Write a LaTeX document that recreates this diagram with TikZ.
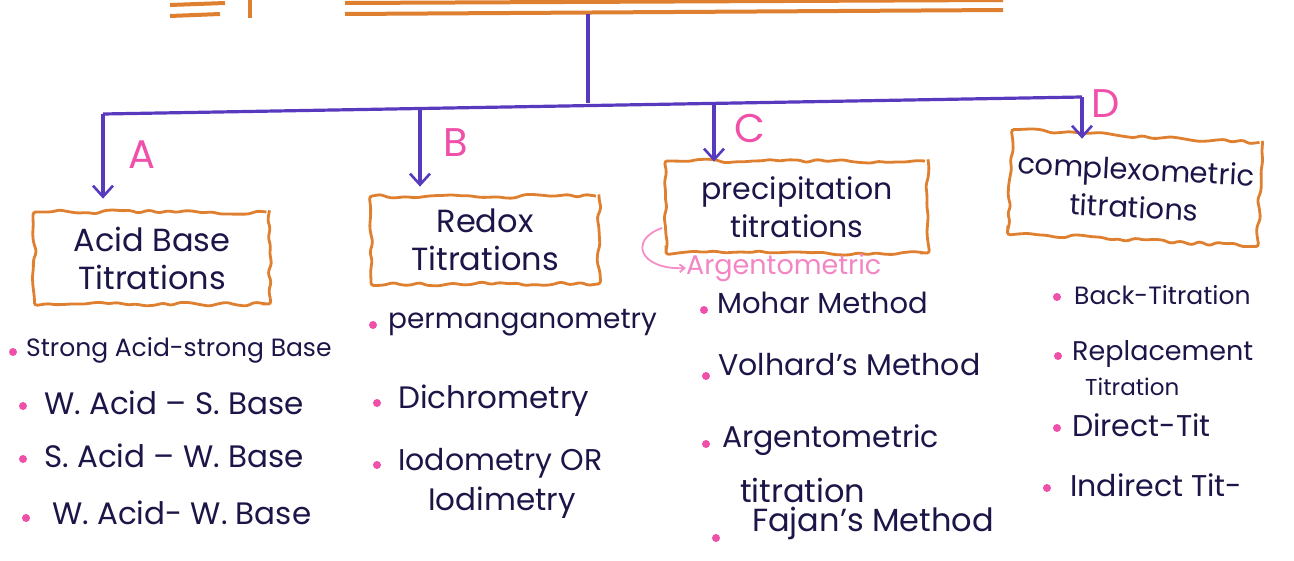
\documentclass[tikz,border=0pt]{standalone}
\usepackage{fontspec}
\setmainfont{Poppins}
\usetikzlibrary{decorations.pathmorphing,arrows.meta}
\definecolor{org}{RGB}{222,128,48}
\definecolor{pur}{RGB}{88,58,190}
\definecolor{pnk}{RGB}{238,80,170}
\definecolor{ink}{RGB}{28,22,72}
\begin{document}
\begin{tikzpicture}[x=1pt,y=-1pt,
  cloudbox/.style={draw=org, line width=2.8pt, fill=white, align=center,
    decorate, decoration={random steps,segment length=9pt,amplitude=2.2pt},
    rounded corners=3pt, text=ink, font=\fontsize{#1}{38}\selectfont, inner sep=0pt},
  cloudbox/.default=32,
  item/.style={anchor=west, text=ink, font=\fontsize{#1}{#1}\selectfont, inner sep=0pt},
  item/.default=28,
  dot/.style={circle, fill=pnk, inner sep=0pt, minimum size=8pt},
  letter/.style={text=pnk, font=\fontsize{40}{40}\selectfont},
  conn/.style={draw=pur, line width=3.2pt},
  arr/.style={conn, -{Straight Barb[length=11pt,width=20pt,line width=2.6pt]}},
  topline/.style={draw=org, line width=4pt}]
\useasboundingbox (0,0) rectangle (1294,560);
\begin{scope}
\clip (0,0) rectangle (1294,560);
% top orange strokes (cut-off title)
\draw[topline] (170,5) -- (225,3);
\draw[topline] (170,16) -- (220,14);
\draw[topline] (250,0) -- (250,18);
\draw[topline] (345,3) -- (1003,0);
\draw[topline] (345,14) -- (1003,10);
\end{scope}
% boxes
\node[cloudbox, minimum width=235pt, minimum height=92pt] (acid) at (152,258) {Acid Base\\Titrations};
\node[cloudbox, minimum width=228pt, minimum height=88pt] (redox) at (485,240) {Redox\\Titrations};
\node[cloudbox=30, minimum width=262pt, minimum height=92pt] (prec) at (797,207) {precipitation\\titrations};
\node[cloudbox=29, minimum width=250pt, minimum height=104pt, rotate=-3] (comp) at (1135,188) {complexometric\\titrations};
% trunk and branches
\coordinate (t0) at (588,14);
\coordinate (t1) at (588,103);
\coordinate (hA) at (103,114);
\coordinate (hB) at (420,110);
\coordinate (hC) at (714,105);
\coordinate (hD) at (1082,97);
\draw[conn] (t0) -- (t1);
\draw[conn] (hA) -- (hD);
\draw[arr] (hA) -- ([yshift=12pt]hA |- acid.north);
\draw[arr] (hB) -- ([yshift=8pt]hB |- redox.north);
\draw[arr] (hC) -- ([yshift=-2pt]hC |- prec.north);
\draw[arr] (hD) -- ([yshift=-4pt]hD |- comp.north);
% letters
\node[letter] (la) at (142,155) {A};
\node[letter] (lb) at (456,143) {B};
\node[letter] (lc) at (750,128) {C};
\node[letter] (ld) at (1106,104) {D};
% argentometric note
\node[text=pnk!70, anchor=west, font=\fontsize{27}{27}\selectfont, inner sep=0pt] (argn) at (686,268) {Argentometric};
\coordinate (ac0) at (662,228);
\draw[draw=pnk!65, line width=1.8pt, -{Straight Barb[length=5pt,width=8pt]}] (ac0) .. controls (628,240) and (640,270) .. (argn.west);
% column A
\node[item=25] (a1) at (26,350) {Strong Acid-strong Base};
\node[item=31] (a2) at (44,403) {W. Acid – S. Base};
\node[item=31] (a3) at (44,456) {S. Acid – W. Base};
\node[item=31] (a4) at (52,513) {W. Acid- W. Base};
\node[dot] at (13,352) {};
\node[dot] at (23,406) {};
\node[dot] at (23,459) {};
\node[dot] at (26,518) {};
% column B
\node[item=28] (b1) at (388,323) {permanganometry};
\node[item=31] (b2) at (398,401) {Dichrometry};
\node[item=30] (b3) at (398,463) {Iodometry OR};
\node[item=31] (b4) at (428,503) {Iodimetry};
\node[dot] at (373,325) {};
\node[dot] at (377,403) {};
\node[dot] at (377,465) {};
% column C
\node[item=29] (c1) at (717,303) {Mohar Method};
\node[item=30] (c2) at (718,365) {Volhard's Method};
\node[item=30] (c3) at (722,440) {Argentometric};
\node[item=32] (c4) at (740,490) {titration};
\node[item=32] (c5) at (752,523) {Fajan's Method};
\node[dot] at (704,310) {};
\node[dot] at (706,376) {};
\node[dot] at (706,444) {};
\node[dot] at (716,538) {};
% column D
\node[item=25] (d1) at (1074,295) {Back-Titration};
\node[item=27] (d2) at (1072,354) {Replacement};
\node[item=23] (d3) at (1085,387) {Titration};
\node[item=30] (d4) at (1072,425) {Direct-Tit};
\node[item=30] (d5) at (1070,485) {Indirect Tit-};
\node[dot] at (1057,297) {};
\node[dot] at (1058,356) {};
\node[dot] at (1057,428) {};
\node[dot] at (1047,488) {};
\end{tikzpicture}
\end{document}
